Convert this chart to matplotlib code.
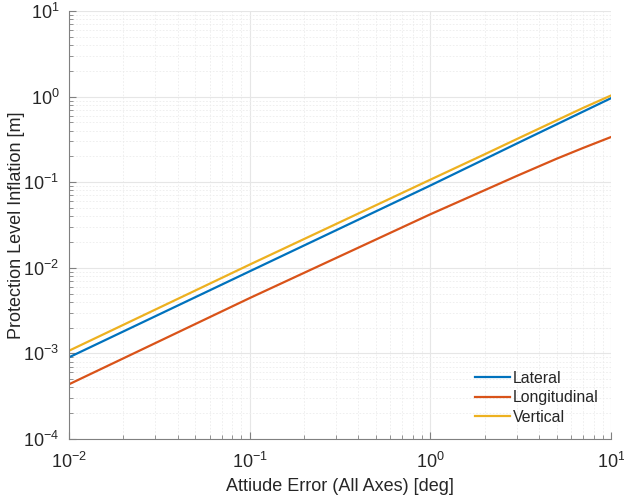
import matplotlib
matplotlib.use('Agg')
import matplotlib.pyplot as plt

# values (log-log)
att_err = [0.01, 0.1, 1, 2, 3, 5, 7, 10]
lateral = [9.0e-4, 9.1e-3, 0.0915, 0.186, 0.282, 0.474, 0.667, 0.958]
longitudinal = [4.36e-4, 4.43e-3, 0.0422, 0.0807, 0.118, 0.188, 0.251, 0.337]
vertical = [1.075e-3, 1.09e-2, 0.107, 0.212, 0.318, 0.528, 0.737, 1.03]

labels = ['Lateral', 'Longitudinal', 'Vertical']
colors = ['#0072BD', '#D95319', '#EDB120']

plt.rcParams['font.family'] = ['Liberation Sans', 'DejaVu Sans']
plt.rcParams['mathtext.fontset'] = 'custom'
plt.rcParams['mathtext.rm'] = 'Liberation Sans'
plt.rcParams['mathtext.it'] = 'Liberation Sans'
plt.rcParams['mathtext.default'] = 'regular'

fig = plt.figure(figsize=(6.24, 4.99), dpi=100)
ax = fig.add_axes([0.1106, 0.1202, 0.8686, 0.8578])

for y, lab, c in zip([lateral, longitudinal, vertical], labels, colors):
    ax.plot(att_err, y, color=c, linewidth=1.6, label=lab)

ax.set_xscale('log')
ax.set_yscale('log')
ax.set_xlim(1e-2, 1e1)
ax.set_ylim(1e-4, 1e1)

ax.grid(True, which='major', color='#e6e6e6', linewidth=0.8)
ax.grid(True, which='minor', color='#ececec', linewidth=0.6, linestyle=(0, (2, 2)))
ax.set_axisbelow(True)

for s in ['top', 'right']:
    ax.spines[s].set_visible(False)
for s in ['left', 'bottom']:
    ax.spines[s].set_color('#808080')
ax.tick_params(which='both', direction='in', colors='#808080', labelcolor='#262626',
               labelsize=13)
ax.tick_params(which='major', length=5)
ax.tick_params(which='minor', length=3)
ax.tick_params(axis='x', which='major', pad=9)
ax.tick_params(axis='y', which='major', pad=7)

ax.set_xlabel('Attiude Error (All Axes) [deg]', fontsize=13, color='#262626')
ax.set_ylabel('Protection Level Inflation [m]', fontsize=13, color='#262626')
ax.xaxis.set_label_coords(0.5, -0.09)
ax.yaxis.set_label_coords(-0.082, 0.5)

leg = ax.legend(loc='lower right', bbox_to_anchor=(1.003, 0.0), frameon=False,
                fontsize=11.4, handlelength=2.2, handletextpad=0.15, labelspacing=0.28)
for t in leg.get_texts():
    t.set_color('#262626')

plt.savefig('out.png', dpi=100)
